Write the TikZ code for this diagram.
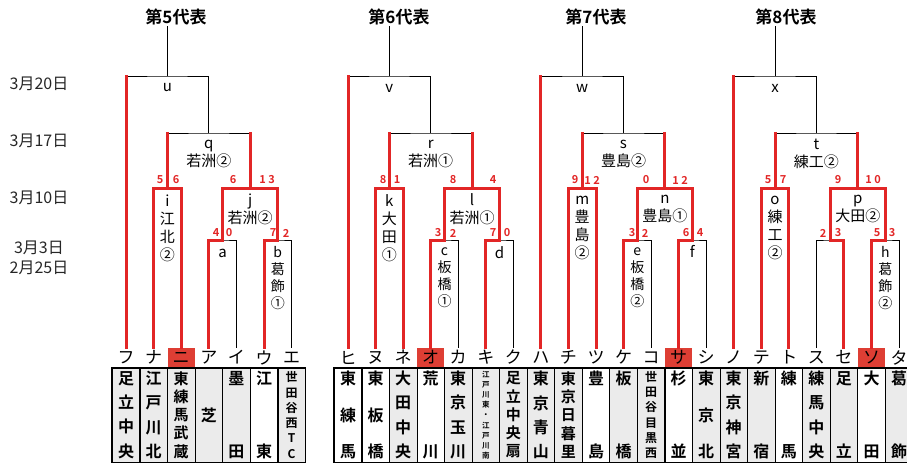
\documentclass[tikz,border=0pt]{standalone}
\usepackage{fontspec}
\setmainfont{Noto Sans CJK JP}[BoldFont={Noto Sans CJK JP Bold}]

\definecolor{winred}{RGB}{226,38,38}
\definecolor{hitred}{RGB}{222,62,52}

\tikzset{
  win/.style={winred, line width=3pt, line cap=rect},
  kana/.style={inner sep=0pt, minimum width=27pt, minimum height=19pt, font=\fontsize{17}{17}\selectfont},
  hit/.style={kana, fill=hitred},
  cell/.style={draw, line width=0.6pt, fill=black!8, inner sep=0pt, minimum width=27.55pt, minimum height=94pt, align=center},
  c1/.style={cell, font=\fontsize{16}{16}\selectfont\bfseries},
  c2/.style={cell, font=\fontsize{16}{73}\selectfont\bfseries},
  c3/.style={cell, font=\fontsize{16}{36.5}\selectfont\bfseries},
  c4/.style={cell, font=\fontsize{16}{24.3}\selectfont\bfseries},
  c5/.style={cell, font=\fontsize{15}{18.25}\selectfont\bfseries},
  c6/.style={cell, font=\fontsize{12}{15.3}\selectfont\bfseries},
  c9/.style={cell, font=\fontsize{7.5}{10.2}\selectfont\bfseries},
  lbl/.style={font=\fontsize{15}{18}\selectfont, inner sep=0pt, align=center},
  vlbl/.style={font=\fontsize{15}{18}\selectfont, inner sep=0pt, align=center},
  vlbl2/.style={font=\fontsize{14}{17}\selectfont, inner sep=0pt, align=center},
  score/.style={text=winred, font=\fontsize{11}{11}\selectfont\bfseries, inner sep=0pt},
  title/.style={font=\fontsize{17}{17}\selectfont\bfseries, inner sep=1pt},
  date/.style={text=black!85, font=\fontsize{16}{16}\selectfont, inner sep=0pt}
}

\begin{document}
\begin{tikzpicture}[x=1pt, y=-1pt, line width=0.8pt]
  \useasboundingbox (0,0) rectangle (907,464);

  % Dates
  \node[date] (d20) at (39,84) {3月20日};
  \node[date] (d17) at (39,141) {3月17日};
  \node[date] (d10) at (39,198) {3月10日};
  \node[date] (d3) at (39,248) {3月3日};
  \node[date] (d25) at (39,268) {2月25日};

  % Titles
  \node[title] (t5) at (176,17) {第5代表};
  \node[title] (t6) at (399,17) {第6代表};
  \node[title] (t7) at (596,17) {第7代表};
  \node[title] (t8) at (786,17) {第8代表};

  % Team table
  \node[c4] (cfu) at (126,415) {足\\立\\中\\央};
  \node[c4] (cna) at (153.6,415) {江\\戸\\川\\北};
  \node[c5] (cni) at (181.2,415) {東\\練\\馬\\武\\蔵};
  \node[c1] (caa) at (208.8,415) {芝};
  \node[c2] (cii) at (236.4,415) {墨\\田};
  \node[c2, fill=white] (cuu) at (264,415) {江\\東};
  \node[c6] (cee) at (291.6,415) {世\\田\\谷\\西\\T\\C};

  \node[c3, fill=white] (chi) at (348,415) {東\\練\\馬};
  \node[c3, fill=white] (cnu) at (375.6,415) {東\\板\\橋};
  \node[c4] (cne) at (403.1,415) {大\\田\\中\\央};
  \node[c2, fill=white] (coo) at (430.7,415) {荒\\川};
  \node[c4] (cka) at (458.2,415) {東\\京\\玉\\川};
  \node[c9] (cki) at (485.8,415) {江\\戸\\川\\東\\・\\江\\戸\\川\\南};
  \node[c5] (cku) at (513.3,415) {足\\立\\中\\央\\扇};
  \node[c4] (cha) at (540.9,415) {東\\京\\青\\山};
  \node[c5] (cchi) at (568.4,415) {東\\京\\日\\暮\\里};
  \node[c2, fill=white] (ctsu) at (596,415) {豊\\島};
  \node[c2] (cke) at (623.5,415) {板\\橋};
  \node[c6] (cko) at (651,415) {世\\田\\谷\\目\\黒\\西};
  \node[c2, fill=white] (csa) at (678.6,415) {杉\\並};
  \node[c3] (cshi) at (706.2,415) {東\\京\\北};
  \node[c4] (cno) at (733.7,415) {東\\京\\神\\宮};
  \node[c2] (cte) at (761.3,415) {新\\宿};
  \node[c2, fill=white] (cto) at (788.8,415) {練\\馬};
  \node[c4] (csu) at (816.4,415) {練\\馬\\中\\央};
  \node[c2] (cse) at (843.9,415) {足\\立};
  \node[c2, fill=white] (cso) at (871.5,415) {大\\田};
  \node[c2] (cta) at (899,415) {葛\\飾};

  \draw[line width=1.3pt] (cfu.north west) rectangle (cee.south east);
  \draw[line width=1.3pt] (chi.north west) rectangle (cta.south east);

  % Katakana slots
  \node[kana] (fu) at (126,357.5) {フ};
  \node[kana] (na) at (153.6,357.5) {ナ};
  \node[hit] (ni) at (181.2,357.5) {ニ};
  \node[kana] (aa) at (208.8,357.5) {ア};
  \node[kana] (ii) at (236.4,357.5) {イ};
  \node[kana] (uu) at (264,357.5) {ウ};
  \node[kana] (ee) at (291.6,357.5) {エ};

  \node[kana] (hi) at (348,357.5) {ヒ};
  \node[kana] (nu) at (375.6,357.5) {ヌ};
  \node[kana] (ne) at (403.1,357.5) {ネ};
  \node[hit] (oo) at (430.7,357.5) {オ};
  \node[kana] (ka) at (458.2,357.5) {カ};
  \node[kana] (ki) at (485.8,357.5) {キ};
  \node[kana] (ku) at (513.3,357.5) {ク};
  \node[kana] (ha) at (540.9,357.5) {ハ};
  \node[kana] (chi) at (568.4,357.5) {チ};
  \node[kana] (tsu) at (596,357.5) {ツ};
  \node[kana] (ke) at (623.5,357.5) {ケ};
  \node[kana] (ko) at (651,357.5) {コ};
  \node[hit] (sa) at (678.6,357.5) {サ};
  \node[kana] (shi) at (706.2,357.5) {シ};
  \node[kana] (no) at (733.7,357.5) {ノ};
  \node[kana] (te) at (761.3,357.5) {テ};
  \node[kana] (to) at (788.8,357.5) {ト};
  \node[kana] (su) at (816.4,357.5) {ス};
  \node[kana] (se) at (843.9,357.5) {セ};
  \node[hit] (so) at (871.5,357.5) {ソ};
  \node[kana] (ta) at (899,357.5) {タ};

  % Matches
  \coordinate (a) at (222.6,240);
  \coordinate (b) at (277.8,240);
  \coordinate (c) at (444.5,240);
  \coordinate (d) at (499.5,240);
  \coordinate (e) at (637.3,240);
  \coordinate (f) at (692.4,240);
  \coordinate (g) at (830.2,240);
  \coordinate (h) at (885.3,240);
  \coordinate (i) at (167.4,188);
  \coordinate (j) at (250.2,188);
  \coordinate (k) at (389.3,188);
  \coordinate (l) at (472,188);
  \coordinate (m) at (582.2,188);
  \coordinate (n) at (664.9,188);
  \coordinate (o) at (775,188);
  \coordinate (p) at (857.8,188);
  \coordinate (q) at (208.8,133);
  \coordinate (r) at (430.7,133);
  \coordinate (s) at (623.5,133);
  \coordinate (t) at (816.4,133);
  \coordinate (u) at (167.4,76);
  \coordinate (v) at (389.3,76);
  \coordinate (w) at (582.2,76);
  \coordinate (x) at (775,76);

  % Draw the brackets
  \draw (fu.north) |- (u) -| (q);
  \draw (i) |- (q) -| (j);
  \draw (na.north) |- (i) -| (ni.north);
  \draw (a) |- (j) -| (b);
  \draw (aa.north) |- (a) -| (ii.north);
  \draw (uu.north) |- (b) -| (ee.north);
  \draw (u) -- (u |- t5.south);

  \draw (hi.north) |- (v) -| (r);
  \draw (k) |- (r) -| (l);
  \draw (nu.north) |- (k) -| (ne.north);
  \draw (c) |- (l) -| (d);
  \draw (oo.north) |- (c) -| (ka.north);
  \draw (ki.north) |- (d) -| (ku.north);
  \draw (v) -- (v |- t6.south);

  \draw (ha.north) |- (w) -| (s);
  \draw (m) |- (s) -| (n);
  \draw (chi.north) |- (m) -| (tsu.north);
  \draw (e) |- (n) -| (f);
  \draw (ke.north) |- (e) -| (ko.north);
  \draw (sa.north) |- (f) -| (shi.north);
  \draw (w) -- (w |- t7.south);

  \draw (no.north) |- (x) -| (t);
  \draw (o) |- (t) -| (p);
  \draw (te.north) |- (o) -| (to.north);
  \draw (g) |- (p) -| (h);
  \draw (su.north) |- (g) -| (se.north);
  \draw (so.north) |- (h) -| (ta.north);
  \draw (x) -- (x |- t8.south);

  % Winning paths
  \draw[win] (fu.north) -- (fu |- u);
  \draw[win] (i) -- (i |- q);
  \draw[win] (j) -- (j |- q);
  \draw[win] (na.north) |- (i) -| (ni.north);
  \draw[win] (a) |- (j) -| (b);
  \draw[win] (aa.north) |- (a) -- (a |- j);
  \draw[win] (uu.north) |- (b) -- (b |- j);

  \draw[win] (hi.north) -- (hi |- v);
  \draw[win] (k) -- (k |- r);
  \draw[win] (l) -- (l |- r);
  \draw[win] (nu.north) |- (k) -| (ne.north);
  \draw[win] (c) |- (l) -| (d);
  \draw[win] (oo.north) |- (c) -- (c |- l);
  \draw[win] (ki.north) |- (d) -- (d |- l);

  \draw[win] (ha.north) -- (ha |- w);
  \draw[win] (m) -- (m |- s);
  \draw[win] (n) -- (n |- s);
  \draw[win] (chi.north) |- (m) -| (tsu.north);
  \draw[win] (e) |- (n) -| (f);
  \draw[win] (ke.north) |- (e) -- (e |- n);
  \draw[win] (sa.north) |- (f) -- (f |- n);

  \draw[win] (no.north) -- (no |- x);
  \draw[win] (o) -- (o |- t);
  \draw[win] (p) -- (p |- t);
  \draw[win] (te.north) |- (o) -| (to.north);
  \draw[win] (g) |- (p) -| (h);
  \draw[win] (se.north) |- (g) -- (g |- p);
  \draw[win] (so.north) |- (h) -- (h |- p);

  % Match labels
  \node[lbl] (ul) at (167.4,88) {u};
  \node[lbl] (vl) at (389.3,88) {v};
  \node[lbl] (wl) at (582.2,88) {w};
  \node[lbl] (xl) at (775,88) {x};
  \node[lbl] (ql) at (208.8,154) {q\\若洲②};
  \node[lbl] (rl) at (430.7,154) {r\\若洲①};
  \node[lbl] (sl) at (623.5,154) {s\\豊島②};
  \node[lbl] (tl) at (816.4,154) {t\\練工②};
  \node[lbl] (jl) at (250.2,209) {j\\若洲②};
  \node[lbl] (ll) at (472,209) {l\\若洲①};
  \node[lbl] (nl) at (664.9,209) {n\\豊島①};
  \node[lbl] (pl) at (857.8,209) {p\\大田②};
  \node[vlbl] (il) at (167.4,228) {i\\江\\北\\②};
  \node[vlbl] (kl) at (389.3,228) {k\\大\\田\\①};
  \node[vlbl] (ml) at (582.2,228) {m\\豊\\島\\②};
  \node[vlbl] (ol) at (775,228) {o\\練\\工\\②};
  \node[lbl] (al) at (222.6,253) {a};
  \node[vlbl2] (bl) at (277.8,278) {b\\葛\\飾\\①};
  \node[vlbl2] (cl) at (444.5,278) {c\\板\\橋\\①};
  \node[lbl] (dl) at (499.5,253) {d};
  \node[vlbl2] (el) at (637.3,278) {e\\板\\橋\\②};
  \node[lbl] (fl) at (692.4,251) {f};
  \node[vlbl2] (hl) at (885.3,278) {h\\葛\\飾\\②};

  % Scores
  \node[score] (si1) at (160,180) {5};
  \node[score] (si2) at (176,180) {6};
  \node[score] (sj1) at (233,180) {6};
  \node[score] (sj2) at (267,180) {1 3};
  \node[score] (sa1) at (216,233) {4};
  \node[score] (sa2) at (229,233) {0};
  \node[score] (sb1) at (273,233) {7};
  \node[score] (sb2) at (286,233) {2};

  \node[score] (sk1) at (383,180) {8};
  \node[score] (sk2) at (397,180) {1};
  \node[score] (sl1) at (453,180) {8};
  \node[score] (sl2) at (493,180) {4};
  \node[score] (sc1) at (438,233) {3};
  \node[score] (sc2) at (453,233) {2};
  \node[score] (sd1) at (493,233) {7};
  \node[score] (sd2) at (507,233) {0};

  \node[score] (sm1) at (575,180) {9};
  \node[score] (sm2) at (592,180) {1 2};
  \node[score] (sn1) at (646,180) {0};
  \node[score] (sn2) at (680,180) {1 2};
  \node[score] (se1) at (632,233) {3};
  \node[score] (se2) at (645,233) {2};
  \node[score] (sf1) at (686,233) {6};
  \node[score] (sf2) at (700,233) {4};

  \node[score] (so1) at (768,180) {5};
  \node[score] (so2) at (783,180) {7};
  \node[score] (sp1) at (838,180) {9};
  \node[score] (sp2) at (873,180) {1 0};
  \node[score] (sg1) at (823,233) {2};
  \node[score] (sg2) at (838,233) {3};
  \node[score] (sh1) at (877,233) {5};
  \node[score] (sh2) at (892,233) {3};
\end{tikzpicture}
\end{document}
